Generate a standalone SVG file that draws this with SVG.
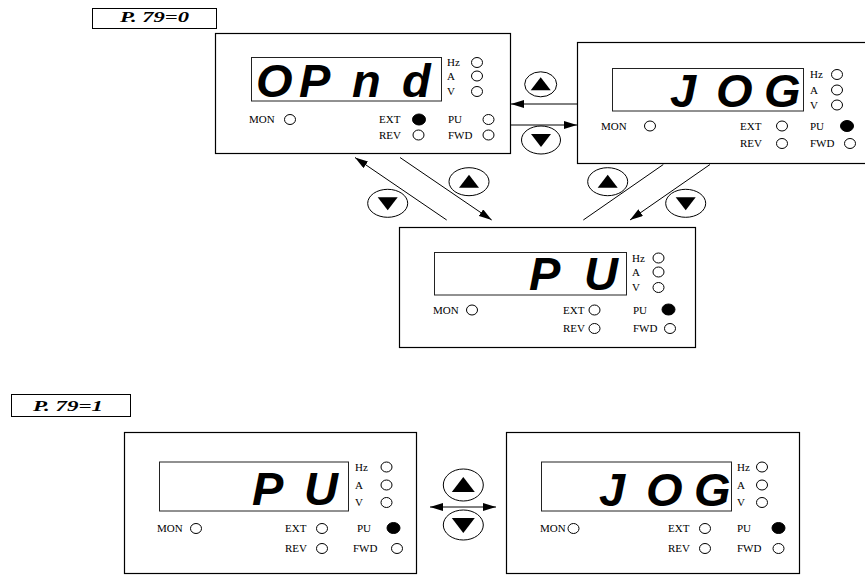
<svg xmlns="http://www.w3.org/2000/svg" width="865" height="576" viewBox="0 0 865 576">
<style>
.frame{fill:#fff;stroke:#000;stroke-width:1.2}
.disp{fill:none;stroke:#222;stroke-width:1}
.lbl{font-family:"Liberation Serif",serif;font-size:11px;fill:#000}
.led{fill:#fff;stroke:#000;stroke-width:1}
.on{fill:#000;stroke:#000;stroke-width:1}
.seg{font-family:"Liberation Sans",sans-serif;font-weight:bold;font-style:italic;font-size:47px;fill:#000}
.btn{fill:#fff;stroke:#000;stroke-width:1}
.tri{fill:#000}
.conn{stroke:#000;stroke-width:1;fill:none}
.tag{font-family:"Liberation Serif",serif;font-weight:bold;font-style:italic;font-size:15px;fill:#000}
.tagbox{fill:#fff;stroke:#000;stroke-width:1}
</style>
<defs>
<marker id="ah" viewBox="0 0 13 8" refX="13" refY="4" markerWidth="13" markerHeight="8" markerUnits="userSpaceOnUse" orient="auto-start-reverse">
<path d="M0,0 L13,4 L0,8 z" fill="#000"/>
</marker>
</defs>

<g id="tag-p79-0">
<rect class="tagbox" x="92.5" y="8.5" width="124" height="20"/>
<text class="tag" x="120" y="21.5" textLength="69" lengthAdjust="spacingAndGlyphs">P. 79=0</text>
</g>
<g id="tag-p79-1">
<rect class="tagbox" x="11.5" y="394.5" width="119" height="22"/>
<text class="tag" x="33" y="411" textLength="70" lengthAdjust="spacingAndGlyphs">P. 79=1</text>
</g>

<g id="connectors">
<line class="conn" x1="577" y1="104" x2="511" y2="104" marker-end="url(#ah)"/>
<line class="conn" x1="511" y1="125" x2="577" y2="125" marker-end="url(#ah)"/>
<line class="conn" x1="446.7" y1="220" x2="355" y2="157.5" marker-end="url(#ah)"/>
<line class="conn" x1="400" y1="157.5" x2="491.7" y2="220" marker-end="url(#ah)"/>
<line class="conn" x1="663.3" y1="164.5" x2="583.3" y2="220"/>
<line class="conn" x1="710" y1="164.5" x2="630" y2="220" marker-end="url(#ah)"/>
<line class="conn" x1="430" y1="507" x2="496" y2="507" marker-start="url(#ah)" marker-end="url(#ah)"/>
</g>

<g id="keys">
<ellipse class="btn" cx="540.7" cy="84.3" rx="16" ry="12.5"/>
<polygon class="tri" points="530.7,90.3 550.7,90.3 540.7,77.3"/>
<ellipse class="btn" cx="541" cy="140" rx="19.5" ry="14"/>
<polygon class="tri" points="531,134 551,134 541,147"/>
<ellipse class="btn" cx="387.7" cy="203.3" rx="20" ry="14"/>
<polygon class="tri" points="377.7,197.3 397.7,197.3 387.7,210.3"/>
<ellipse class="btn" cx="469" cy="181.7" rx="20" ry="14"/>
<polygon class="tri" points="459,187.7 479,187.7 469,174.7"/>
<ellipse class="btn" cx="607.7" cy="181.7" rx="20" ry="14"/>
<polygon class="tri" points="597.7,187.7 617.7,187.7 607.7,174.7"/>
<ellipse class="btn" cx="685.7" cy="203.3" rx="20" ry="14"/>
<polygon class="tri" points="675.7,197.3 695.7,197.3 685.7,210.3"/>
<ellipse class="btn" cx="463.3" cy="485" rx="20" ry="16"/>
<polygon class="tri" points="451.8,492 474.8,492 463.3,477"/>
<ellipse class="btn" cx="463.3" cy="525" rx="20" ry="15"/>
<polygon class="tri" points="451.8,518 474.8,518 463.3,533"/>
</g>

<g id="panel-opnd">
<rect class="frame" x="215.5" y="33.5" width="295" height="120"/>
<rect class="disp" x="251.5" y="57.5" width="190" height="43.5"/>
<text class="seg" x="256 299 352 402" y="97">OPnd</text>
<text class="lbl" x="447" y="66">Hz</text><ellipse class="led" cx="477" cy="62.5" rx="5.5" ry="5"/>
<text class="lbl" x="447" y="79.5">A</text><ellipse class="led" cx="477" cy="76" rx="5.5" ry="5"/>
<text class="lbl" x="447" y="95">V</text><ellipse class="led" cx="477" cy="91.5" rx="5.5" ry="5"/>
<text class="lbl" x="249" y="123">MON</text><ellipse class="led" cx="290" cy="119.5" rx="5.5" ry="5"/>
<text class="lbl" x="379" y="123">EXT</text><ellipse class="on" cx="419" cy="119.5" rx="6.5" ry="5.5"/>
<text class="lbl" x="448" y="123">PU</text><ellipse class="led" cx="488.5" cy="119.5" rx="5.5" ry="5"/>
<text class="lbl" x="379" y="138.5">REV</text><ellipse class="led" cx="418.5" cy="135" rx="5.5" ry="5"/>
<text class="lbl" x="448" y="138.5">FWD</text><ellipse class="led" cx="488.5" cy="135" rx="5.5" ry="5"/>
</g>

<g id="panel-jog-top">
<rect class="frame" x="577.5" y="42.5" width="300" height="121"/>
<rect class="disp" x="612.5" y="68.5" width="191" height="42.5"/>
<text class="seg" x="670 716 764" y="107">JOG</text>
<text class="lbl" x="810" y="78">Hz</text><ellipse class="led" cx="837" cy="74.5" rx="5.5" ry="5"/>
<text class="lbl" x="810" y="93.5">A</text><ellipse class="led" cx="837" cy="90" rx="5.5" ry="5"/>
<text class="lbl" x="810" y="108.5">V</text><ellipse class="led" cx="837" cy="105" rx="5.5" ry="5"/>
<text class="lbl" x="601" y="129.5">MON</text><ellipse class="led" cx="650" cy="126" rx="5.5" ry="5"/>
<text class="lbl" x="740" y="129.5">EXT</text><ellipse class="led" cx="782" cy="126" rx="5.5" ry="5"/>
<text class="lbl" x="810" y="129.5">PU</text><ellipse class="on" cx="847" cy="126" rx="6.5" ry="5.5"/>
<text class="lbl" x="740" y="147">REV</text><ellipse class="led" cx="782" cy="143.5" rx="5.5" ry="5"/>
<text class="lbl" x="810" y="147">FWD</text><ellipse class="led" cx="850" cy="143.5" rx="5.5" ry="5"/>
</g>

<g id="panel-pu-top">
<rect class="frame" x="399.5" y="227.5" width="296" height="120"/>
<rect class="disp" x="434.5" y="252.5" width="192" height="42.5"/>
<text class="seg" x="529 584" y="290">PU</text>
<text class="lbl" x="632" y="261.5">Hz</text><ellipse class="led" cx="658.5" cy="258" rx="5.5" ry="5"/>
<text class="lbl" x="632" y="275.5">A</text><ellipse class="led" cx="658.5" cy="272" rx="5.5" ry="5"/>
<text class="lbl" x="632" y="291">V</text><ellipse class="led" cx="658.5" cy="287.5" rx="5.5" ry="5"/>
<text class="lbl" x="433" y="313.5">MON</text><ellipse class="led" cx="472" cy="310" rx="5.5" ry="5"/>
<text class="lbl" x="563" y="313.5">EXT</text><ellipse class="led" cx="594.5" cy="310" rx="5.5" ry="5"/>
<text class="lbl" x="633" y="313.5">PU</text><ellipse class="on" cx="668.5" cy="309.5" rx="6.5" ry="5.5"/>
<text class="lbl" x="563" y="332">REV</text><ellipse class="led" cx="594.5" cy="328.5" rx="5.5" ry="5"/>
<text class="lbl" x="633" y="332">FWD</text><ellipse class="led" cx="670" cy="328.5" rx="5.5" ry="5"/>
</g>

<g id="panel-pu-bottom">
<rect class="frame" x="124.5" y="432.5" width="292" height="141"/>
<rect class="disp" x="159.5" y="462" width="189" height="49"/>
<text class="seg" x="252 304" y="505">PU</text>
<text class="lbl" x="355" y="470.5">Hz</text><ellipse class="led" cx="386.5" cy="467" rx="5.5" ry="5"/>
<text class="lbl" x="355" y="488.5">A</text><ellipse class="led" cx="386.5" cy="485" rx="5.5" ry="5"/>
<text class="lbl" x="355" y="506">V</text><ellipse class="led" cx="386.5" cy="502.5" rx="5.5" ry="5"/>
<text class="lbl" x="157" y="532">MON</text><ellipse class="led" cx="196" cy="528.5" rx="5.5" ry="5"/>
<text class="lbl" x="285" y="532">EXT</text><ellipse class="led" cx="322" cy="528.5" rx="5.5" ry="5"/>
<text class="lbl" x="357" y="532">PU</text><ellipse class="on" cx="393.5" cy="528" rx="6.5" ry="5.5"/>
<text class="lbl" x="285" y="552">REV</text><ellipse class="led" cx="322" cy="548.5" rx="5.5" ry="5"/>
<text class="lbl" x="353" y="552">FWD</text><ellipse class="led" cx="397" cy="548.5" rx="5.5" ry="5"/>
</g>

<g id="panel-jog-bottom">
<rect class="frame" x="506.5" y="432.5" width="293" height="141"/>
<rect class="disp" x="541.5" y="462" width="190" height="49"/>
<text class="seg" x="599 646 694" y="506">JOG</text>
<text class="lbl" x="737" y="470.5">Hz</text><ellipse class="led" cx="762" cy="467" rx="5.5" ry="5"/>
<text class="lbl" x="737" y="488.5">A</text><ellipse class="led" cx="762" cy="485" rx="5.5" ry="5"/>
<text class="lbl" x="737" y="506">V</text><ellipse class="led" cx="762" cy="502.5" rx="5.5" ry="5"/>
<text class="lbl" x="540" y="532">MON</text><ellipse class="led" cx="573.5" cy="528.5" rx="5.5" ry="5"/>
<text class="lbl" x="668" y="532">EXT</text><ellipse class="led" cx="705" cy="528.5" rx="5.5" ry="5"/>
<text class="lbl" x="737" y="532">PU</text><ellipse class="on" cx="778.5" cy="528" rx="6.5" ry="5.5"/>
<text class="lbl" x="668" y="552">REV</text><ellipse class="led" cx="705" cy="548.5" rx="5.5" ry="5"/>
<text class="lbl" x="737" y="552">FWD</text><ellipse class="led" cx="778.5" cy="548.5" rx="5.5" ry="5"/>
</g>
</svg>
